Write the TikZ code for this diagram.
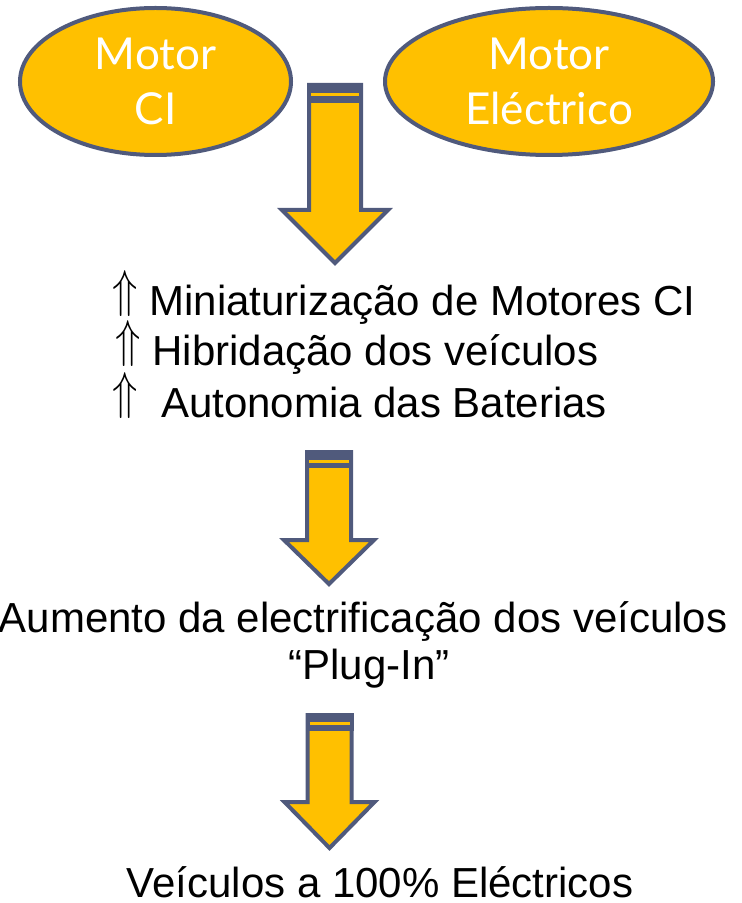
\documentclass[tikz,border=0pt]{standalone}
\usepackage{fontspec}
\usepackage{graphicx}
\setmainfont{Liberation Sans}
\newfontfamily\gillfont{Lato}
\usetikzlibrary{shapes.geometric}
\definecolor{motorgold}{HTML}{FFC000}
\definecolor{slateline}{HTML}{505A7C}
\newcommand{\upmark}{\raisebox{4.5pt}{\scalebox{1}[1.25]{$\Uparrow$}}}
% cx, top, band bottom, band line, neck, tip, shaft half, head half
\newcommand{\blockarrow}[8]{%
  \draw[flowarrow] (#1-#7+2,#2+2) -- (#1+#7-2,#2+2) -- (#1+#7-2,#5+2) -- (#1+#8-3,#5+2)
    -- (#1,#6-4) -- (#1-#8+3,#5+2) -- (#1-#7+2,#5+2) -- cycle;
  \fill[slateline] (#1-#7,#2) rectangle (#1+#7,#3);
  \draw[motorgold, line width=1.5pt] (#1-#7+4,#4) -- (#1+#7-4,#4);
}

\begin{document}
\begin{tikzpicture}[
  x=0.5pt, y=-0.5pt,
  motorbox/.style={ellipse, draw=slateline, line width=2pt, fill=motorgold, text=white, align=center, inner sep=0pt, minimum height=73.5pt, font=\gillfont\fontsize{22}{27.5}\selectfont},
  trendline/.style={anchor=base west, inner sep=0pt, font=\fontsize{21}{25.5}\selectfont},
  flowtext/.style={align=center, inner sep=0pt, font=\fontsize{21}{23.5}\selectfont},
  flowarrow/.style={draw=slateline, line width=2pt, fill=motorgold, line join=miter}
]
\useasboundingbox (0,0) rectangle (742,903);
\node[motorbox, minimum width=135.5pt] (ciMotor) at (155.5,81.5) {Motor\\CI};
\node[motorbox, minimum width=164pt] (elMotor) at (549,81.5) {Motor\\Eléctrico};
\blockarrow{335}{83}{103}{94.5}{208}{267}{28}{56}
\node[trendline] (miniMotor) at (112,315) {\upmark\ Miniaturização de Motores CI};
\node[trendline] (hybridCar) at (115,365) {\upmark\ Hibridação dos veículos};
\node[trendline] (batteryRange) at (112,417) {\upmark~ Autonomia das Baterias};
\blockarrow{329}{450}{468}{461}{538}{588}{24}{48}
\node[flowtext, anchor=base] (plugIn) at (369,679) {Aumento da electrificação dos veículos\hspace*{6pt}\\“Plug-In”};
\blockarrow{329.5}{713}{731}{723}{800}{852}{24}{48}
\node[flowtext, anchor=base] (fullElectric) at (380,897) {Veículos a 100\% Eléctricos};
\end{tikzpicture}
\end{document}
